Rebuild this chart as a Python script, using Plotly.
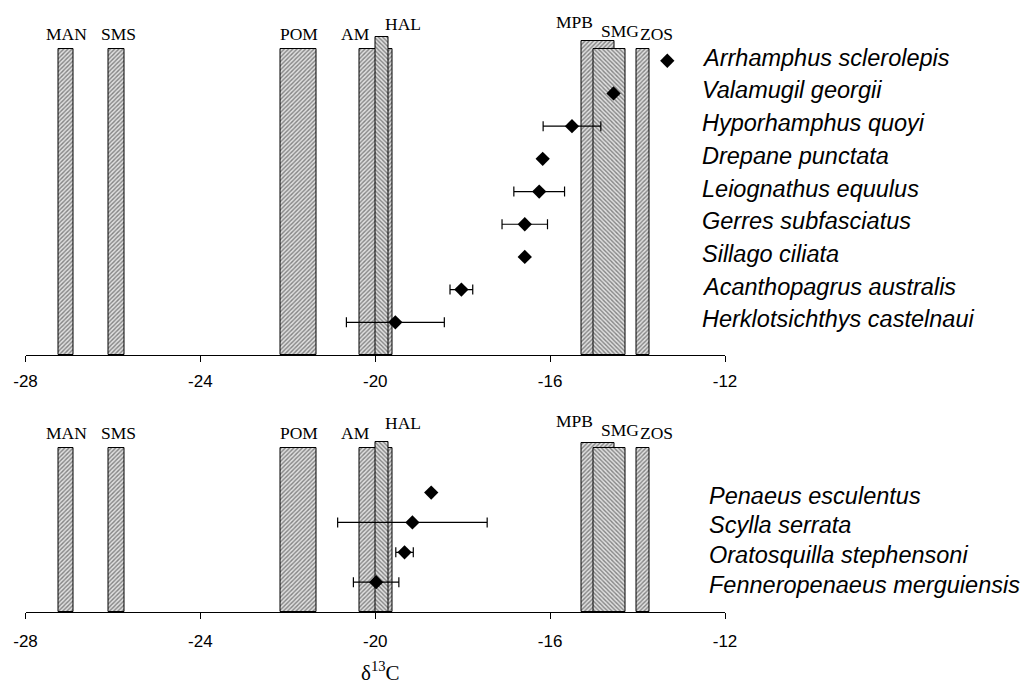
import plotly.graph_objects as go

# carbon sources: left / right edge of each bar (delta13C)
sources = ['MAN', 'SMS', 'POM', 'AM', 'HAL', 'MPB', 'SMG', 'ZOS']
src_lo = [-27.24, -26.11, -22.16, -20.37, -20.00, -15.29, -15.00, -14.03]
src_hi = [-26.90, -25.73, -21.34, -19.61, -19.69, -14.53, -14.27, -13.73]
# bar heights in each panel
src_top_fish = [9.37, 9.37, 9.37, 9.37, 9.72, 9.62, 9.37, 9.37]
src_top_crus = [5.48, 5.48, 5.48, 5.48, 5.68, 5.65, 5.48, 5.48]

# consumers, listed top to bottom
fish = ['Arrhamphus sclerolepis', 'Valamugil georgii', 'Hyporhamphus quoyi',
        'Drepane punctata', 'Leiognathus equulus', 'Gerres subfasciatus',
        'Sillago ciliata', 'Acanthopagrus australis', 'Herklotsichthys castelnaui']
fish_mean = [-13.32, -14.55, -15.50, -16.17, -16.25, -16.58, -16.58, -18.03, -19.54]
fish_sd = [0, 0, 0.66, 0, 0.58, 0.52, 0, 0.26, 1.12]

crus = ['Penaeus esculentus', 'Scylla serrata', 'Oratosquilla stephensoni',
        'Fenneropenaeus merguiensis']
crus_mean = [-18.72, -19.15, -19.33, -19.98]
crus_sd = [0, 1.71, 0.20, 0.52]

ticks = [-28, -24, -20, -16, -12]
tick_text = ['-28', '-24', '-20', '-16', '-12']

# style stuff
hatch = {'SMG': '\\', 'HAL': '\\'}
lab_dx = {'MAN': 0, 'SMS': 2, 'POM': 0, 'AM': -20, 'HAL': 21, 'MPB': -23, 'SMG': 10, 'ZOS': 14}
lab_dy_fish = {'HAL': 13, 'MPB': 18, 'SMG': 18}
lab_dy_crus = {'HAL': 19, 'MPB': 22, 'SMG': 18}
SERIF = 'Liberation Serif, Times New Roman, serif'
SANS = 'Liberation Sans, Arial, sans-serif'
W, H = 1028, 689
OX, OY = 8, 7   # page body offset

fig = go.Figure()


def add_panel(xa, tops, names, means, sds, dys, name_x, name_dy):
    axn = '' if xa == 1 else str(xa)
    for s, lo, hi, top in zip(sources, src_lo, src_hi, tops):
        fig.add_trace(go.Bar(
            x=[(lo + hi) / 2], y=[top], width=[hi - lo],
            marker=dict(color='#e0e0e0', line=dict(color='black', width=1),
                        pattern=dict(shape=hatch.get(s, '/'), size=3, solidity=0.45,
                                     fgcolor='#262626', bgcolor='#e0e0e0', fillmode='overlay')),
            xaxis='x' + axn, yaxis='y' + axn, showlegend=False, hoverinfo='skip'))
        fig.add_annotation(x=(lo + hi) / 2, y=top, xref='x' + axn, yref='y' + axn,
                           text=s, showarrow=False, xshift=lab_dx[s],
                           yshift=dys.get(s, 15),
                           font=dict(family=SERIF, size=17.5, color='black'))
    ys = list(range(len(names), 0, -1))
    fig.add_trace(go.Scatter(
        x=means, y=ys, mode='markers',
        marker=dict(symbol='diamond', size=11, color='black'),
        error_x=dict(type='data', array=sds, color='black', thickness=1.2, width=5),
        xaxis='x' + axn, yaxis='y' + axn, showlegend=False))
    for n, y in zip(names, ys):
        fig.add_annotation(x=name_x, y=y, xref='x' + axn, yref='y' + axn, text=n,
                           showarrow=False, xanchor='left', yshift=name_dy,
                           font=dict(family=SANS, size=23.5, color='black', style='italic'))


add_panel(1, src_top_fish, fish, fish_mean, fish_sd, lab_dy_fish, -12.58, 3)
add_panel(2, src_top_crus, crus, crus_mean, crus_sd, lab_dy_crus, -12.42, -3)

xdom = [(25.5 - OX) / W, (725 - OX) / W]
xcommon = dict(range=[-28, -12], tickvals=ticks, ticktext=tick_text, ticks='outside',
               ticklen=6, tickcolor='black', showline=True, linecolor='black',
               linewidth=1, showgrid=False, zeroline=False, domain=xdom,
               automargin=False, tickfont=dict(family=SANS, size=17, color='black'))
ycommon = dict(visible=False, showgrid=False, zeroline=False, automargin=False)

fig.add_annotation(x=(380 - OX) / W, y=1 - 679 / H, xref='paper', yref='paper',
                   text='δ<sup>13</sup>C', showarrow=False,
                   font=dict(family=SERIF, size=21, color='black'))

fig.update_layout(
    template='none',
    width=W, height=H, autosize=False,
    margin=dict(l=0, r=0, t=0, b=0, pad=0),
    paper_bgcolor='white', plot_bgcolor='white',
    barmode='overlay', bargap=0,
    xaxis=dict(**xcommon, anchor='y', ticklabelstandoff=5),
    yaxis=dict(**ycommon, range=[0, 10.4],
               domain=[1 - (354 - OY) / H, 1 - (14 - OY) / H], anchor='x'),
    xaxis2=dict(**xcommon, anchor='y2', ticklabelstandoff=8),
    yaxis2=dict(**ycommon, range=[0, 6.6],
                domain=[1 - (611 - OY) / H, 1 - (414 - OY) / H], anchor='x2'),
)

fig.write_html("out.html")
